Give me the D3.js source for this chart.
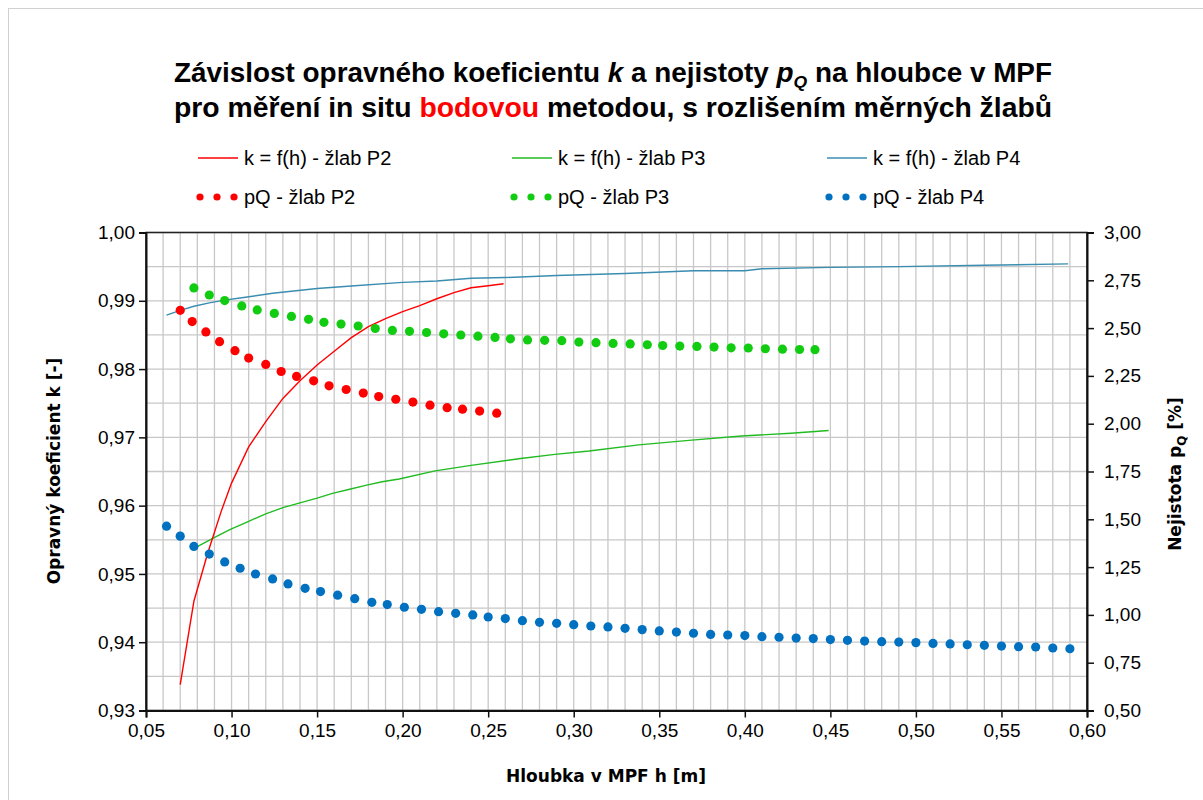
<!DOCTYPE html>
<html>
<head>
<meta charset="utf-8">
<style>
  body { margin: 0; background: #fff; }
  svg text { font-family: "Liberation Sans", Arial, sans-serif; }
</style>
</head>
<body>
<svg id="chart" width="1203" height="800"></svg>
<script src="https://d3js.org/d3.v7.min.js"></script>
<script>
// ---- data ----
// k = f(h) lines
var hK2 = [0.070,0.078,0.086,0.094,0.100,0.110,0.120,0.130,0.140,0.150,0.160,0.170,0.180,0.190,0.200,0.210,0.220,0.230,0.240,0.250,0.259];
var kK2 = [0.9338,0.9460,0.9530,0.9592,0.9633,0.9686,0.9723,0.9757,0.9783,0.9806,0.9826,0.9846,0.9862,0.9874,0.9884,0.9893,0.9903,0.9912,0.9919,0.9922,0.9925];

var hK3 = [0.080,0.089,0.099,0.109,0.120,0.130,0.140,0.150,0.159,0.169,0.179,0.188,0.198,0.219,0.240,0.269,0.289,0.309,0.338,0.369,0.398,0.427,0.449];
var kK3 = [0.9540,0.9552,0.9565,0.9576,0.9588,0.9597,0.9604,0.9611,0.9618,0.9624,0.9630,0.9635,0.9639,0.9651,0.9659,0.9669,0.9675,0.9680,0.9689,0.9696,0.9702,0.9706,0.9710];

var hK4 = [0.062,0.070,0.078,0.087,0.096,0.105,0.124,0.150,0.172,0.200,0.220,0.240,0.260,0.290,0.330,0.370,0.400,0.410,0.450,0.490,0.540,0.589];
var kK4 = [0.9879,0.9886,0.9892,0.9897,0.9901,0.9904,0.9911,0.9918,0.9922,0.9927,0.9929,0.9933,0.9934,0.9937,0.9940,0.9944,0.9944,0.9947,0.9949,0.9950,0.9952,0.9954];

// pQ dots (right axis, %)
var hP2 = [0.070,0.077,0.085,0.093,0.102,0.110,0.120,0.129,0.138,0.148,0.157,0.167,0.177,0.186,0.196,0.206,0.216,0.226,0.235,0.245,0.255];
var pqP2 = [2.593,2.534,2.480,2.429,2.382,2.343,2.310,2.273,2.247,2.224,2.198,2.179,2.160,2.142,2.128,2.113,2.097,2.084,2.076,2.066,2.055];

var hP3 = [0.078,0.087,0.096,0.106,0.115,0.125,0.135,0.145,0.154,0.164,0.174,0.184,0.194,0.204,0.214,0.224,0.234,0.244,0.254,0.263,
           0.273,0.283,0.293,0.303,0.313,0.323,0.333,0.343,0.352,0.362,0.372,0.382,0.392,0.402,0.412,0.422,0.432,0.441];
var pqP3 = [2.710,2.673,2.644,2.616,2.595,2.577,2.561,2.546,2.530,2.521,2.511,2.498,2.488,2.483,2.477,2.470,2.464,2.458,2.451,2.444,
            2.438,2.436,2.434,2.427,2.424,2.420,2.417,2.413,2.409,2.406,2.404,2.401,2.397,2.396,2.392,2.390,2.388,2.387];

var hP4 = [0.062,0.070,0.078,0.087,0.096,0.105,0.114,0.124,0.133,0.143,0.152,0.162,0.172,0.182,0.191,0.201,0.211,0.221,0.231,0.241,0.250,
           0.26,0.27,0.28,0.29,0.30,0.31,0.32,0.33,0.34,0.35,0.36,0.37,0.38,0.39,0.40,0.41,0.42,0.43,0.44,0.45,0.46,0.47,0.48,0.49,
           0.50,0.51,0.52,0.53,0.54,0.55,0.56,0.57,0.58,0.59];
var pqP4 = [1.464,1.412,1.358,1.318,1.277,1.244,1.214,1.188,1.162,1.139,1.122,1.103,1.085,1.066,1.054,1.040,1.029,1.017,1.008,1.000,0.989,
            0.981,0.970,0.961,0.956,0.949,0.942,0.937,0.930,0.923,0.916,0.910,0.904,0.898,0.895,0.892,0.886,0.883,0.879,0.876,0.871,
            0.867,0.863,0.860,0.858,0.855,0.851,0.848,0.844,0.841,0.837,0.834,0.832,0.827,0.823];

// ticks
var hTicks = [0.05,0.10,0.15,0.20,0.25,0.30,0.35,0.40,0.45,0.50,0.55,0.60];
var kTicks = [0.93,0.94,0.95,0.96,0.97,0.98,0.99,1.00];
var pTicks = [0.50,0.75,1.00,1.25,1.50,1.75,2.00,2.25,2.50,2.75,3.00];

var legendLabels = ["k = f(h) - žlab P2","k = f(h) - žlab P3","k = f(h) - žlab P4",
                    "pQ - žlab P2","pQ - žlab P3","pQ - žlab P4"];

(function () {
var svg = d3.select("#chart");
var mLeft = 146, mTop = 232.5, width = 941, height = 478;
var cRed = "#ff0000", cGreenLine = "#22bb22", cGreenDot = "#11cc11", cBlueLine = "#3a8db0", cBlueDot = "#0070c0";

var x = d3.scaleLinear().domain([0.05, 0.60]).range([0, width]);
var yK = d3.scaleLinear().domain([0.93, 1.00]).range([height, 0]);
var yP = d3.scaleLinear().domain([0.50, 3.00]).range([height, 0]);
var comma = function (d) { return d.toFixed(2).replace(".", ","); };

// outer frame
svg.append("rect").attr("x", 8.5).attr("y", 8.5).attr("width", 1300).attr("height", 900)
    .attr("fill", "none").attr("stroke", "#d0d0d0");

// title
var t1 = svg.append("text").attr("x", 613).attr("y", 82).attr("text-anchor", "middle")
    .style("font-size", "27px").style("font-weight", "bold")
    .attr("textLength", 878).attr("lengthAdjust", "spacingAndGlyphs");
t1.append("tspan").text("Závislost opravného koeficientu ");
t1.append("tspan").style("font-style", "italic").text("k");
t1.append("tspan").text(" a nejistoty ");
t1.append("tspan").style("font-style", "italic").text("p");
t1.append("tspan").style("font-style", "italic").style("font-size", "17px").attr("dy", 6).text("Q");
t1.append("tspan").attr("dy", -6).text(" na hloubce v MPF");

var t2 = svg.append("text").attr("x", 613).attr("y", 117).attr("text-anchor", "middle")
    .style("font-size", "27px").style("font-weight", "bold")
    .attr("textLength", 878).attr("lengthAdjust", "spacingAndGlyphs");
t2.append("tspan").text("pro měření in situ ");
t2.append("tspan").attr("fill", cRed).text("bodovou");
t2.append("tspan").text(" metodou, s rozlišením měrných žlabů");

// legend
var legX = [198, 512, 827];
var lineCols = [cRed, cGreenLine, cBlueLine];
var dotCols = [cRed, cGreenDot, cBlueDot];
var leg = svg.append("g");
legX.forEach(function (lx, i) {
    leg.append("line").attr("x1", lx).attr("x2", lx + 40).attr("y1", 158).attr("y2", 158)
        .attr("stroke", lineCols[i]).attr("stroke-width", 1.5);
    leg.append("text").attr("x", lx + 46).attr("y", 158).attr("dominant-baseline", "central")
        .style("font-size", "20px").text(legendLabels[i]);
    [0, 17, 34].forEach(function (dx) {
        leg.append("circle").attr("cx", lx + 2 + dx).attr("cy", 197).attr("r", 3.6).attr("fill", dotCols[i]);
    });
    leg.append("text").attr("x", lx + 46).attr("y", 197).attr("dominant-baseline", "central")
        .style("font-size", "20px").text(legendLabels[i + 3]);
});

var g = svg.append("g").attr("transform", "translate(" + mLeft + "," + mTop + ")");

// grid
var hGrid = d3.range(0.05, 0.6001, 0.01);
var kGrid = d3.range(0.93, 1.0001, 0.005);
g.append("g").selectAll("line").data(hGrid).enter().append("line")
    .attr("x1", function (d) { return x(d); }).attr("x2", function (d) { return x(d); })
    .attr("y1", 0).attr("y2", height).attr("stroke", "#c8c8c8").attr("stroke-width", 1.3);
g.append("g").selectAll("line").data(kGrid).enter().append("line")
    .attr("y1", function (d) { return yK(d); }).attr("y2", function (d) { return yK(d); })
    .attr("x1", 0).attr("x2", width).attr("stroke", "#c8c8c8").attr("stroke-width", 1.3);

// plot frame
g.append("rect").attr("width", width).attr("height", height)
    .attr("fill", "none").attr("stroke", "#222").attr("stroke-width", 1.5);

// axes
function styleAxis(sel) {
    sel.selectAll("path").attr("stroke", "#111").attr("stroke-width", 2);
    sel.selectAll("line").attr("stroke", "#111").attr("stroke-width", 1.5);
    sel.selectAll("text").style("font-family", "Liberation Sans, Arial, sans-serif")
        .style("font-size", "19px").attr("fill", "#000");
}
g.append("g").attr("transform", "translate(0," + height + ")")
    .call(d3.axisBottom(x).tickValues(hTicks).tickFormat(comma).tickSizeOuter(0).tickSize(7).tickPadding(6))
    .call(styleAxis);
g.append("g")
    .call(d3.axisLeft(yK).tickValues(kTicks).tickFormat(comma).tickSizeOuter(0).tickSize(7).tickPadding(4))
    .call(styleAxis);
g.append("g").attr("transform", "translate(" + width + ",0)")
    .call(d3.axisRight(yP).tickValues(pTicks).tickFormat(comma).tickSizeOuter(0).tickSize(7).tickPadding(10))
    .call(styleAxis);

// axis titles
svg.append("text").attr("transform", "translate(60,471) rotate(-90)").attr("text-anchor", "middle")
    .style("font-family", "DejaVu Sans, Verdana, sans-serif").style("font-size", "17px").style("font-weight", "bold")
    .text("Opravný koeficient k [-]");
var yr = svg.append("text").attr("transform", "translate(1181,474) rotate(-90)").attr("text-anchor", "middle")
    .style("font-family", "DejaVu Sans, Verdana, sans-serif").style("font-size", "17px").style("font-weight", "bold");
yr.append("tspan").text("Nejistota p");
yr.append("tspan").style("font-size", "12px").attr("dy", 5).text("Q");
yr.append("tspan").attr("dy", -5).text(" [%]");
svg.append("text").attr("x", 606).attr("y", 782).attr("text-anchor", "middle")
    .style("font-family", "DejaVu Sans, Verdana, sans-serif").style("font-size", "17px").style("font-weight", "bold")
    .text("Hloubka v MPF h [m]");

// k lines
function drawLine(hs, ks, col) {
    var pts = hs.map(function (h, i) { return [h, ks[i]]; });
    g.append("path").datum(pts)
        .attr("d", d3.line().x(function (d) { return x(d[0]); }).y(function (d) { return yK(d[1]); }))
        .attr("fill", "none").attr("stroke", col).attr("stroke-width", 1.4);
}
drawLine(hK4, kK4, cBlueLine);
drawLine(hK3, kK3, cGreenLine);
drawLine(hK2, kK2, cRed);

// pQ dots
function drawDots(hs, ps, col) {
    g.append("g").selectAll("circle").data(hs).enter().append("circle")
        .attr("cx", function (d) { return x(d); })
        .attr("cy", function (d, i) { return yP(ps[i]); })
        .attr("r", 4.6).attr("fill", col);
}
drawDots(hP2, pqP2, cRed);
drawDots(hP3, pqP3, cGreenDot);
drawDots(hP4, pqP4, cBlueDot);
})();
</script>
</body>
</html>
